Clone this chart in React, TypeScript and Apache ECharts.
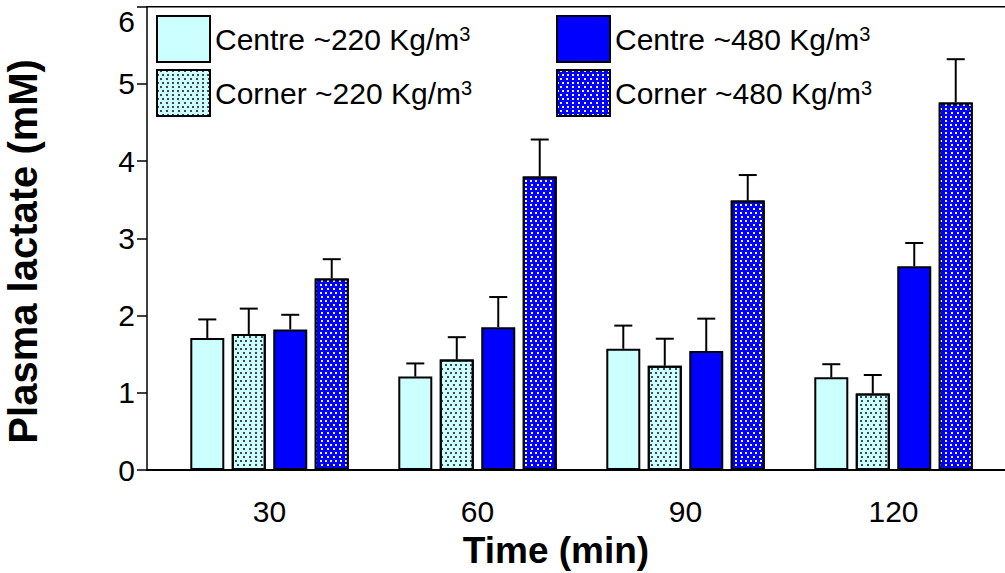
import React, { useEffect, useRef } from "react";
import * as echarts from "echarts";

const times = [30, 60, 90, 120];
const seriesNames = ["Centre ~220 Kg/m³", "Corner ~220 Kg/m³", "Centre ~480 Kg/m³", "Corner ~480 Kg/m³"];
const centre220 = [1.71, 1.21, 1.57, 1.2];
const centre220Err = [0.24, 0.17, 0.3, 0.17];
const corner220 = [1.76, 1.43, 1.35, 0.99];
const corner220Err = [0.33, 0.29, 0.35, 0.24];
const centre480 = [1.82, 1.85, 1.54, 2.64];
const centre480Err = [0.19, 0.39, 0.42, 0.3];
const corner480 = [2.48, 3.8, 3.49, 4.76];
const corner480Err = [0.25, 0.48, 0.33, 0.56];
const yMin = 0;
const yMax = 6;
const yInterval = 1;

const FONT = "'Liberation Sans', Arial, sans-serif";
const BAR_W = 34;
const GAP_RATIO = 0.22;

export default function App() {
  const ref = useRef<HTMLDivElement>(null);
  useEffect(() => {
    if (!ref.current) return;
    const chart = echarts.init(ref.current, null, { renderer: "svg" });
    const means = [centre220, corner220, centre480, corner480];
    const errs = [centre220Err, corner220Err, centre480Err, corner480Err];
    const colors = ["#ccffff", "#ccffff", "#0000ff", "#0000ff"];
    const dotDecal = (c: string) => ({
      symbol: "rect",
      symbolSize: 1,
      color: c,
      dashArrayX: [[2, 3], [0, 2.5, 2, 0.5]],
      dashArrayY: [2, 2],
      rotation: 0,
    });
    const decals = [null, dotDecal("#3a4a4a"), null, dotDecal("#eeeeff")];

    const barSeries = means.map((arr, si) => ({
      name: seriesNames[si],
      type: "bar",
      barWidth: BAR_W,
      barGap: GAP_RATIO * 100 + "%",
      data: times.map((t, i) => [t, arr[i]]),
      itemStyle: {
        color: colors[si],
        borderColor: "#000",
        borderWidth: 2,
        ...(decals[si] ? { decal: decals[si] } : {}),
      },
      z: 2,
    }));

    const errData: number[][] = [];
    means.forEach((arr, si) => {
      times.forEach((t, i) => {
        errData.push([t, arr[i], arr[i] + errs[si][i], si]);
      });
    });
    const pitch = BAR_W * (1 + GAP_RATIO);

    const option: any = {
      animation: false,
      textStyle: { fontFamily: FONT },
      grid: { left: 147, right: 0, top: 6.7, bottom: 103, containLabel: false, outerBoundsMode: "none" },
      legend: [0, 1].map((k) => ({
        data: [seriesNames[k * 2], seriesNames[k * 2 + 1]],
        orient: "vertical",
        left: k === 0 ? 151 : 551,
        top: 10,
        itemGap: 6,
        itemWidth: 53,
        itemHeight: 46,
        icon: "rect",
        selectedMode: false,
        itemStyle: { borderColor: "#000", borderWidth: 2 },
        formatter: (name: string) => name.replace("³", "{sup|3}"),
        textStyle: {
          fontSize: 30,
          color: "#000",
          fontFamily: FONT,
          rich: {
            sup: { fontSize: 20, lineHeight: 20, verticalAlign: "top", fontFamily: FONT, color: "#000" },
          },
        },
      })),
      xAxis: {
        type: "value",
        min: 12.33,
        max: 136.08,
        name: "Time (min)",
        nameLocation: "middle",
        nameGap: 62,
        nameTextStyle: { fontSize: 37, fontWeight: "bold", color: "#000", fontFamily: FONT, padding: [0, 40, 0, 0] },
        axisLine: { show: true, onZero: false, lineStyle: { color: "#000", width: 2 } },
        axisTick: { show: false },
        splitLine: { show: false },
        axisLabel: {
          customValues: times,
          fontSize: 30,
          color: "#000",
          fontFamily: FONT,
          margin: 26,
          formatter: (v: number) => String(v),
        },
      },
      yAxis: {
        type: "value",
        min: yMin,
        max: yMax,
        interval: yInterval,
        name: "Plasma lactate (mM)",
        nameLocation: "middle",
        nameGap: 104,
        nameTextStyle: { fontSize: 40, fontWeight: "bold", color: "#000", fontFamily: FONT, padding: [0, 26, 0, 0] },
        axisLine: { show: true, lineStyle: { color: "#000", width: 1.5 } },
        axisTick: { show: true, length: 10, lineStyle: { color: "#000", width: 1.5 } },
        splitLine: { show: false },
        axisLabel: {
          fontSize: 30,
          color: "#000",
          fontFamily: FONT,
          margin: 12,
          verticalAlignMaxLabel: "top",
        },
      },
      graphic: [
        {
          type: "line",
          shape: { x1: 147, y1: 6.7, x2: 1005, y2: 6.7 },
          style: { stroke: "#000", lineWidth: 1.5 },
          z: 10,
        },
      ],
      series: [
        ...barSeries,
        {
          type: "custom",
          name: "err",
          z: 3,
          data: errData,
          encode: { x: 0, y: [1, 2] },
          renderItem: (params: any, api: any) => {
            const x = api.value(0);
            const m = api.value(1);
            const top = api.value(2);
            const si = api.value(3);
            const p0 = api.coord([x, m]);
            const p1 = api.coord([x, top]);
            const cx = p0[0] + (si - 1.5) * pitch;
            const style = { stroke: "#000", lineWidth: 2 };
            return {
              type: "group",
              children: [
                { type: "line", shape: { x1: cx, y1: p0[1], x2: cx, y2: p1[1] }, style },
                { type: "line", shape: { x1: cx - 9, y1: p1[1], x2: cx + 9, y2: p1[1] }, style },
              ],
            };
          },
        },
      ],
    };
    chart.setOption(option);
    return () => chart.dispose();
  }, []);
  return (
    <div
      ref={ref}
      style={{ position: "absolute", left: 0, top: 0, width: 1005, height: 573, background: "#fff" }}
    />
  );
}
